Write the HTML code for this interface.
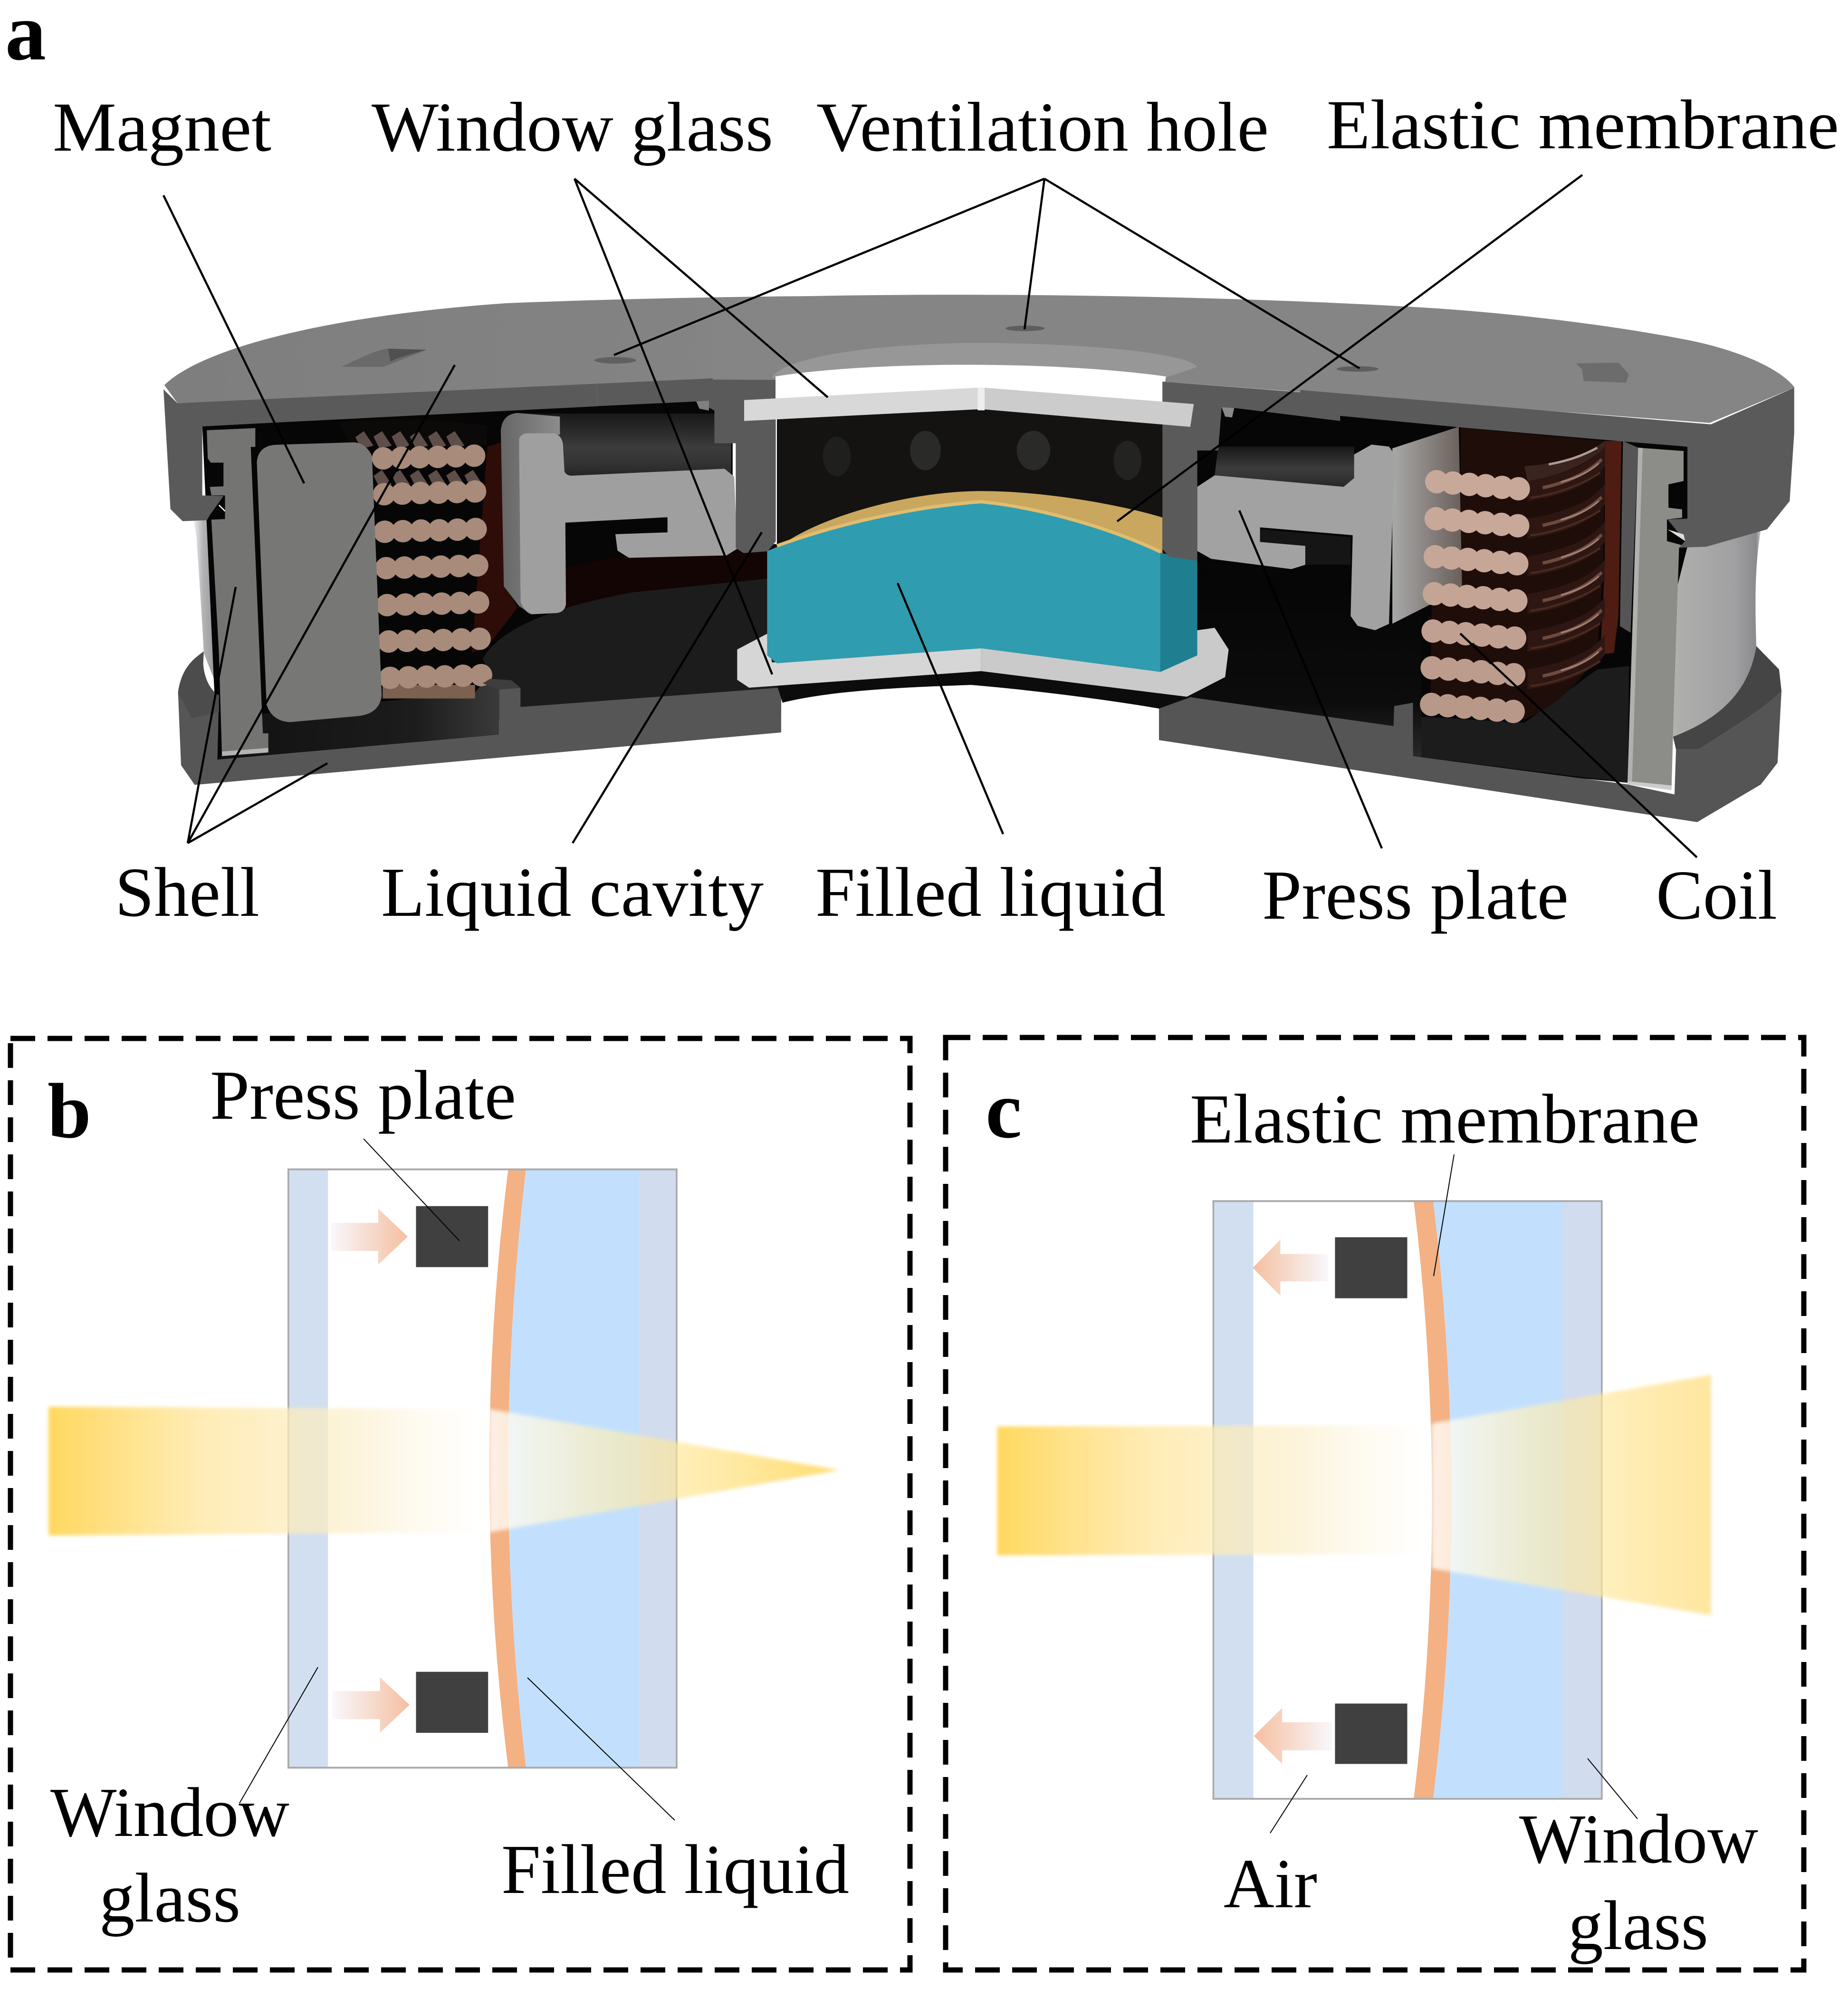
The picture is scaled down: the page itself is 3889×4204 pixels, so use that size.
<!DOCTYPE html>
<html><head><meta charset="utf-8"><style>
html,body{margin:0;padding:0;background:#fff}
svg{display:block}
text{font-family:"Liberation Serif",serif;font-size:148px;fill:#000}
.b{font-weight:bold;font-size:172px}
</style></head><body>
<svg width="3889" height="4204" viewBox="0 0 3889 4204" xmlns="http://www.w3.org/2000/svg">
<defs>
<linearGradient id="sil" x1="0" x2="1" y1="0" y2="0"><stop offset="0" stop-color="#f4f4f6"/><stop offset=".35" stop-color="#b4b4b6"/><stop offset="1" stop-color="#8c8c8e"/></linearGradient>
<linearGradient id="silr" x1="0" x2="1" y1="0" y2="0"><stop offset="0" stop-color="#b0b0ae"/><stop offset=".7" stop-color="#a0a0a2"/><stop offset=".95" stop-color="#8a8a8c"/><stop offset="1" stop-color="#d0d0d2"/></linearGradient>
<linearGradient id="top" x1="0" x2="1" y1="0" y2="0"><stop offset="0" stop-color="#7e7e7e"/><stop offset="1" stop-color="#858585"/></linearGradient>
<linearGradient id="glow" x1="0" x2="0" y1="0" y2="1"><stop offset="0" stop-color="#181818"/><stop offset=".55" stop-color="#3c3c3c"/><stop offset=".8" stop-color="#333"/><stop offset="1" stop-color="#262626"/></linearGradient>
<linearGradient id="floor" x1="0" x2="0" y1="0" y2="1"><stop offset="0" stop-color="#050505"/><stop offset=".7" stop-color="#0c0c0c"/><stop offset="1" stop-color="#2c2c2c"/></linearGradient>
<linearGradient id="floorL" x1="0" x2="1" y1="0" y2="0"><stop offset="0" stop-color="#111"/><stop offset=".7" stop-color="#1c1c1c"/><stop offset="1" stop-color="#3a3a3a"/></linearGradient>
<linearGradient id="side" x1="0" x2="1" y1="0" y2="0"><stop offset="0" stop-color="#666"/><stop offset="1" stop-color="#8c8c8c"/></linearGradient>
<linearGradient id="sideR" x1="0" x2="1" y1="0" y2="0"><stop offset="0" stop-color="#a8a8a8"/><stop offset="1" stop-color="#6a5f5a"/></linearGradient>
<linearGradient id="aR" x1="0" x2="1" y1="0" y2="0"><stop offset="0" stop-color="#f8f8fc"/><stop offset="1" stop-color="#f5bfa0"/></linearGradient>
<linearGradient id="aL" x1="1" x2="0" y1="0" y2="0"><stop offset="0" stop-color="#f8f8fc"/><stop offset="1" stop-color="#f5bfa0"/></linearGradient>
<linearGradient id="beam" x1="0" x2="1" y1="0" y2="0"><stop offset="0" stop-color="#ffd85f"/><stop offset=".35" stop-color="#ffe9a8" stop-opacity=".85"/><stop offset=".7" stop-color="#fbeec8" stop-opacity=".65"/><stop offset="1" stop-color="#ffffff" stop-opacity=".35"/></linearGradient>
<linearGradient id="beam2" x1="0" x2="1" y1="0" y2="0"><stop offset="0" stop-color="#ffffff" stop-opacity=".8"/><stop offset=".45" stop-color="#ffe9a0" stop-opacity=".62"/><stop offset="1" stop-color="#ffd85f" stop-opacity=".9"/></linearGradient>
<linearGradient id="beam3" x1="0" x2="1" y1="0" y2="0"><stop offset="0" stop-color="#ffffff" stop-opacity=".8"/><stop offset=".5" stop-color="#ffe9a0" stop-opacity=".62"/><stop offset="1" stop-color="#ffe59a" stop-opacity=".95"/></linearGradient>
<filter id="bl" x="-5%" y="-5%" width="110%" height="110%"><feGaussianBlur stdDeviation="3"/></filter>
<g id="cl"><circle cx="0" cy="0" r="37"/><circle cx="60" cy="-2" r="37"/><circle cx="120" cy="-4" r="37"/><circle cx="180" cy="-5" r="37"/><circle cx="240" cy="-7" r="37"/><circle cx="300" cy="-9" r="37"/></g>
<g id="cr"><ellipse cx="0" cy="0" rx="38" ry="35"/><ellipse cx="54" cy="4" rx="38" ry="35"/><ellipse cx="108" cy="8" rx="38" ry="35"/><ellipse cx="162" cy="12" rx="38" ry="35"/><ellipse cx="216" cy="17" rx="38" ry="35"/><ellipse cx="270" cy="21" rx="38" ry="35"/></g>
<g id="zz"><path d="M0 20L28 0L60 48L20 58Z"/><path d="M60 18L88 0L120 48L80 58Z"/><path d="M120 18L148 0L180 48L140 58Z"/><path d="M180 18L208 0L240 48L200 58Z"/><path d="M240 18L268 0L300 48L260 58Z"/><path d="M300 18L328 0L360 48L320 58Z"/></g>
<g id="sw"><path d="M650 445C750 430 860 400 905 340L905 400C860 460 760 490 650 505Z" fill="#2e1712"/><path d="M700 465C780 450 850 420 895 380" fill="none" stroke="#6e4a3e" stroke-width="10"/><path d="M760 448C810 436 850 420 885 392" fill="none" stroke="#a08076" stroke-width="5"/><path d="M660 495C750 485 840 450 890 420" fill="none" stroke="#4a2a20" stroke-width="6"/></g>
</defs>

<!-- LEFT CHAMBER (crop L) -->
<g transform="translate(330,800) scale(.6378)">
<path d="M120 460L190 460L210 1040L155 900C150 800 140 650 130 510Z" fill="url(#sil)"/>
<path d="M150 152L1900 60L1900 568L2060 568L2060 1100L1200 1110L200 1252Z" fill="#060606"/>
<path d="M1345 620L1568 570L1900 545L2060 540L2060 650L1568 700L1345 760Z" fill="#120504"/>
<path d="M1075 920C1130 820 1300 750 1568 700L2060 650L2060 1014L1200 1078L1200 1015L1130 1020Z" fill="#1c1c1c"/>
<path d="M355 1100L740 1060L1050 1030L1075 1000L1130 1020L1130 1170L200 1252Z" fill="url(#floorL)"/>
<path d="M1090 220L1135 205L1150 680L1190 750L1090 880L1040 900Z" fill="#2e0c07"/>
<rect x="1195" y="110" width="700" height="205" fill="url(#glow)"/>
<path d="M600 140C700 125 900 125 1090 150L1090 215L640 215Z" fill="#0c0909"/>
<path d="M1135 165Q1140 112 1190 108L1330 120L1330 180L1220 175L1195 195L1200 730L1240 775L1195 745L1145 680Z" fill="url(#side)"/>
<g fill="#5e4e49"><use href="#zz" x="655" y="168"/><use href="#zz" x="715" y="296"/></g>
<rect x="745" y="1005" width="305" height="45" fill="#7c6050"/>
<g fill="#a88b7a">
<use href="#cl" x="747" y="258"/><use href="#cl" x="750" y="376"/><use href="#cl" x="752" y="500"/><use href="#cl" x="757" y="620"/><use href="#cl" x="760" y="742"/><use href="#cl" x="765" y="862"/><use href="#cl" x="770" y="982"/>
</g>
<path d="M330 270Q335 215 395 213L650 205Q690 207 710 250L742 1040Q735 1100 665 1108L440 1128Q380 1125 362 1070Z" fill="#777776"/>
<path d="M165 165L325 158L325 220L310 220L350 1165L368 1165L368 1225L215 1238L205 900L180 460L225 458L225 380L180 380L175 352L220 350L220 272L178 272L168 258Z" fill="#747473"/>
<path d="M215 1225L368 1213L368 1228L215 1240Z" fill="#b4b4b2"/>
<path d="M1195 195Q1200 178 1220 175L1310 175Q1335 180 1340 210L1345 300Q1350 315 1370 315L1873 292L1905 318L1915 556L1880 578L1558 586L1520 562L1513 508L1685 502L1685 452L1348 470L1350 740Q1345 765 1320 768L1240 772Q1215 770 1200 730Z" fill="#9f9f9f"/>
<path d="M155 895C110 925 80 960 70 1030L80 1270L125 1335L2060 1162L2060 1014L1200 1078L1200 1015L1130 1020L1130 1170L200 1252L205 1040L150 1000Z" fill="#565656"/>
<path d="M155 895C110 925 80 960 70 1030L115 1115L205 1095L205 1040C170 1020 145 960 155 895Z" fill="#4c4c4c"/>
<path d="M1075 1000L1130 1020L1200 1015L1170 990L1100 985Z" fill="#3e3e3e"/>
<path d="M22 30L67 75L1453 11L1453 86L150 152L150 380L220 382L175 445L165 462L85 465L45 425Z" fill="#5a5a5a"/>
<path d="M205 412L225 432" stroke="#fff" stroke-width="4"/>
</g>

<!-- TOP LEFT SURFACE -->
<g transform="translate(300,550) scale(.9566,.7653)">
<path d="M48 340C130 240 400 150 800 115C1100 100 1400 95 1568 95L1568 300L1393 313L77 390Z" fill="url(#top)"/>
<path d="M437 290C480 265 510 245 540 240L625 243L570 270L530 290Z" fill="#6a6a6a"/>
<path d="M540 240L625 243L570 262L545 275Z" fill="#505050"/>
<ellipse cx="1040" cy="272" rx="46" ry="9" fill="#606060"/>
<path d="M1000 336L1393 313L1393 770L1375 797L1322 802L1305 788L1305 500L1258 500L1258 410L1220 385L1000 398Z" fill="#5a5a5a"/>
<path d="M1218 385L1246 383L1246 410L1225 405Z" fill="#808080"/>
</g>

<!-- TOP RIGHT SURFACE -->
<g transform="translate(1500,550) scale(1.467,.829)">
<path d="M0 95C300 75 700 85 1000 115C1150 130 1300 165 1400 200C1470 225 1530 270 1552 320L1430 410L645 305L0 300Z" fill="#858585"/>
<path d="M85 295C100 240 250 207 380 207C520 207 680 230 695 268L650 295Z" fill="#979797"/>
<path d="M90 355L90 292C220 255 480 250 650 292L645 360Z" fill="#fff"/>
<ellipse cx="448" cy="170" rx="28" ry="7" fill="#5e5e5e"/>
<ellipse cx="925" cy="273" rx="30" ry="7" fill="#5e5e5e"/>
</g>

<!-- RIGHT CHAMBER (crop R) -->
<g transform="translate(2800,700) scale(.6378,.7015)">
<path d="M810 92L950 90L985 125L975 150L835 145L830 110Z" fill="#6c6c6c"/>
<path d="M1150 645L1240 642L1420 590C1400 700 1400 800 1405 940C1380 1080 1280 1160 1130 1212Z" fill="url(#silr)"/>
<path d="M-460 190L1178 342L1178 640L980 1350L272 1290L-460 1110Z" fill="#060606"/>
<path d="M272 1150L640 1170L880 1010L985 1000L980 1350L272 1270Z" fill="#1c1c1c"/>
<path d="M-460 700L300 820L300 1290L-460 1110Z" fill="url(#floor)"/>
<path d="M965 325L1015 345L990 900L955 880Z" fill="#555"/>
<path d="M905 325L960 325L950 850L935 960L890 965L905 700Z" fill="#4e1c12"/>
<path d="M430 285L905 325L900 700L880 960C820 1060 740 1120 640 1160L330 1090L340 440L430 440Z" fill="#1f0d0a"/>
<path d="M640 400C740 395 840 370 905 325L905 345C840 400 750 430 650 445Z" fill="#3a2420"/>
<path d="M720 395C780 385 830 370 880 345" fill="none" stroke="#b09a94" stroke-width="7"/>
<use href="#sw"/><use href="#sw" y="113"/><use href="#sw" y="226"/><use href="#sw" y="339"/><use href="#sw" y="452"/><use href="#sw" y="565"/>
<path d="M204 347L423 282L434 767L204 873Z" fill="url(#sideR)"/>
<g>
<use href="#cr" x="350" y="447" fill="#c8a898"/><use href="#cr" x="348" y="558" fill="#c8a898"/><use href="#cr" x="345" y="672" fill="#c6a696"/><use href="#cr" x="342" y="783" fill="#c4a494"/><use href="#cr" x="338" y="895" fill="#c0a090"/><use href="#cr" x="335" y="1005" fill="#bc9c8c"/><use href="#cr" x="333" y="1115" fill="#b89888"/>
</g>
<path d="M1015 345L1165 355L1165 445L1115 455L1115 525L1160 530L1160 555L1110 560L1110 625L1170 640L1150 645L1130 1210L1125 1370L980 1350Z" fill="#8c8c88"/>
<path d="M1015 345L1030 346L995 1345L980 1348Z" fill="#b0b0ae"/>
<path d="M980 1345L1125 1358L1125 1372L980 1355Z" fill="#cccccc"/>
<path d="M1130 1212C1280 1160 1380 1080 1405 940L1480 1010L1488 1075C1430 1130 1300 1200 1215 1250L1140 1250Z" fill="#454545"/>
<path d="M-566 1092L-474 1092L208 1180L210 1120L272 1110L272 1270L980 1355L1135 1385L1140 1250L1215 1250C1300 1200 1430 1130 1488 1075L1475 1290L1420 1355L1210 1468L-566 1222Z" fill="#555"/>
<path d="M-100 172L1255 275L1530 165L1530 300L1515 505L1440 590L1240 642L1150 645L1170 625L1112 560L1178 558L1178 342L950 325L440 285L-100 238Z" fill="#5a5a5a"/>
<path d="M1112 590L1165 605L1170 625Z" fill="#ddd"/>
</g>
<g transform="translate(1500,550) scale(1.467,.829)">
<path d="M725 470L920 470L920 550L905 572L720 543Z" fill="url(#glow)"/>
<path d="M695 572L720 543L905 572L920 550L920 490L945 465L970 470L978 490L970 920L950 936L925 925L915 900L918 695L785 675L785 712L850 722L850 770L830 781L715 755L695 735Z" fill="#a2a2a2"/>
<path d="M785 680L915 700L915 770L850 770L850 722L785 712Z" fill="#151515"/>
<!-- central cavity -->
<rect x="92" y="375" width="603" height="660" fill="#141312"/>
<ellipse cx="178" cy="495" rx="20" ry="50" fill="#1f1f1e"/><ellipse cx="305" cy="480" rx="22" ry="50" fill="#2a2a29"/><ellipse cx="460" cy="480" rx="24" ry="50" fill="#2a2a29"/><ellipse cx="595" cy="505" rx="20" ry="50" fill="#232322"/>
<path d="M95 725C150 650 280 583 385 583C480 583 590 620 645 650L645 745L385 615Z" fill="#c9a75e"/>
<path d="M100 1120C180 1085 300 1080 370 1075C440 1085 560 1110 640 1135L695 1100L385 1030L92 1075Z" fill="#0c0c0c"/>
<path d="M35 985L78 945L85 1018L385 982L385 1040L52 1082L35 1062Z" fill="#d6d6d6"/>
<path d="M385 982L640 950L720 930L740 985L735 1055L680 1105L385 1040Z" fill="#cacaca"/>
<path d="M78 735L92 725C180 668 290 625 385 613C470 628 570 680 642 740L695 757L695 1000L642 1042L385 982L92 1020L78 1000Z" fill="#2f9cb0"/>
<path d="M642 740L695 757L695 1000L642 1042Z" fill="#1f7f90"/>
<path d="M92 722C180 665 290 622 385 610C470 625 570 677 642 737" fill="none" stroke="#e1bd6e" stroke-width="7" vector-effect="non-scaling-stroke"/>
<!-- column -->
<path d="M645 305L900 340L900 405L748 372L730 370L725 480L695 480L695 760L655 750L645 730Z" fill="#5a5a5a"/>
<path d="M730 370L748 372L745 396L735 394Z" fill="#8a8a8a"/>
<path d="M45 352L385 320L385 375L45 405Z" fill="#d8d8d8"/>
<path d="M385 320L690 362L685 420L385 375Z" fill="#cccccc"/>
<path d="M380 320L390 320L390 378L380 378Z" fill="#eee"/>
</g>

<!-- callouts a -->
<g stroke="#000" stroke-width="4.5" fill="none">
<path d="M344 411L640 1017"/>
<path d="M395 1774L496 1235M395 1774L957 768M395 1774L689 1606"/>
<path d="M1209 376L1742 836M1209 376L1625 1419"/>
<path d="M2198 376L1292 747M2198 376L2156 693M2198 376L2861 775"/>
<path d="M3330 368L2351 1097"/>
<path d="M1205 1774L1603 1120"/>
<path d="M2111 1755L1889 1227"/>
<path d="M2908 1785L2608 1074"/>
<path d="M3571 1804L3073 1333"/>
</g>

<!-- PANEL B -->
<g transform="translate(0,2150) scale(1.2436,1.31)">
<path d="M890 237L1082 237L1082 1198L890 1198Q830 717 890 237Z" fill="#c2e0fd"/>
<rect x="488" y="237" width="67" height="961" fill="#d2dff0"/>
<rect x="1082" y="237" width="63" height="961" fill="#d2dcef"/>
<path d="M860 237L890 237Q830 717 890 1198L860 1198Q796 717 860 237Z" fill="#f4b183"/>
<rect x="704" y="296" width="122" height="98" fill="#404040"/>
<rect x="704" y="1044" width="122" height="98" fill="#404040"/>
<path d="M560 323L640 323L640 300L690 345L640 390L640 368L560 368Z" fill="url(#aR)"/>
<path d="M563 1075L643 1075L643 1053L693 1097L643 1142L643 1120L563 1120Z" fill="url(#aR)"/>
<rect x="488" y="237" width="657" height="961" fill="none" stroke="#aaa" stroke-width="3"/>
<path d="M82 618L828 622L828 820L82 825Z" fill="url(#beam)" filter="url(#bl)"/>
<path d="M828 622L1420 720L828 820Z" fill="url(#beam2)" filter="url(#bl)"/>
</g>
<g stroke="#000" stroke-width="2" fill="none">
<path d="M765 2396L967 2611"/>
<path d="M669 3508L504 3794"/>
<path d="M1110 3530L1420 3830"/>
</g>

<!-- PANEL C -->
<g transform="translate(1950,2150) scale(1.2366,1.31)">
<path d="M862 288L1082 288L1082 1248L862 1248Q924 768 862 288Z" fill="#c2e0fd"/>
<rect x="488" y="288" width="68" height="960" fill="#d2dff0"/>
<rect x="1082" y="288" width="67" height="960" fill="#d2dcef"/>
<path d="M829 288L862 288Q924 768 862 1248L829 1248Q891 768 829 288Z" fill="#f4b183"/>
<rect x="695" y="346" width="123" height="98" fill="#404040"/>
<rect x="695" y="1095" width="123" height="97" fill="#404040"/>
<path d="M555 395L602 350L602 373L683 373L683 417L602 417L602 440Z" fill="url(#aL)"/>
<path d="M557 1147L605 1102L605 1125L690 1125L690 1170L605 1170L605 1192Z" fill="url(#aL)"/>
<rect x="488" y="288" width="661" height="960" fill="none" stroke="#aaa" stroke-width="3"/>
<path d="M120 650L860 648L860 855L120 857Z" fill="url(#beam)" filter="url(#bl)"/>
<path d="M860 645L1335 567L1335 953L860 878Z" fill="url(#beam3)" filter="url(#bl)"/>
</g>
<g stroke="#000" stroke-width="2" fill="none">
<path d="M3060 2429L3017 2685"/>
<path d="M2751 3735L2673 3857"/>
<path d="M3341 3700L3446 3827"/>
</g>

<!-- dashed frames -->
<rect x="22" y="2185" width="1893" height="1960" fill="none" stroke="#000" stroke-width="11" stroke-dasharray="52 26"/>
<rect x="1990" y="2183" width="1806" height="1962" fill="none" stroke="#000" stroke-width="11" stroke-dasharray="52 26"/>

<!-- text -->
<text class="b" x="11" y="125">a</text>
<text x="111" y="317" textLength="460" lengthAdjust="spacingAndGlyphs">Magnet</text>
<text x="782" y="317" textLength="845" lengthAdjust="spacingAndGlyphs">Window glass</text>
<text x="1718" y="317" textLength="952" lengthAdjust="spacingAndGlyphs">Ventilation hole</text>
<text x="2792" y="312" textLength="1078" lengthAdjust="spacingAndGlyphs">Elastic membrane</text>
<text x="242" y="1927" textLength="304" lengthAdjust="spacingAndGlyphs">Shell</text>
<text x="802" y="1927" textLength="805" lengthAdjust="spacingAndGlyphs">Liquid cavity</text>
<text x="1716" y="1927" textLength="737" lengthAdjust="spacingAndGlyphs">Filled liquid</text>
<text x="2656" y="1933" textLength="645" lengthAdjust="spacingAndGlyphs">Press plate</text>
<text x="3485" y="1933" textLength="255" lengthAdjust="spacingAndGlyphs">Coil</text>
<text class="b" x="100" y="2393" style="font-size:165px">b</text>
<text class="b" x="2074" y="2393">c</text>
<text x="442" y="2354" textLength="644" lengthAdjust="spacingAndGlyphs">Press plate</text>
<text x="106" y="3863" textLength="503" lengthAdjust="spacingAndGlyphs">Window</text>
<text x="209" y="4043" textLength="297" lengthAdjust="spacingAndGlyphs">glass</text>
<text x="1055" y="3983" textLength="732" lengthAdjust="spacingAndGlyphs">Filled liquid</text>
<text x="2504" y="2404" textLength="1073" lengthAdjust="spacingAndGlyphs">Elastic membrane</text>
<text x="2575" y="4013" textLength="197" lengthAdjust="spacingAndGlyphs">Air</text>
<text x="3197" y="3919" textLength="503" lengthAdjust="spacingAndGlyphs">Window</text>
<text x="3300" y="4101" textLength="295" lengthAdjust="spacingAndGlyphs">glass</text>
</svg>
</body></html>
